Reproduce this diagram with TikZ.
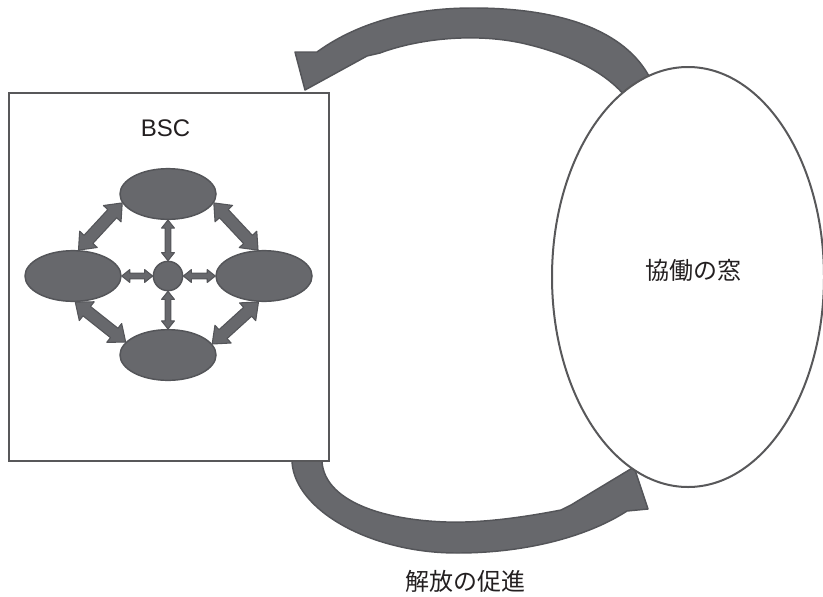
\documentclass[tikz,border=0pt]{standalone}
\usepackage{fontspec}
\setmainfont{Liberation Sans}
\newfontfamily\jfont{Noto Sans CJK JP}
\usepackage{tikz}
\usetikzlibrary{calc,shapes.geometric}

\definecolor{arrowfill}{RGB}{103,104,108}
\definecolor{arrowline}{RGB}{84,85,89}
\definecolor{frameline}{RGB}{88,88,90}
\definecolor{textcol}{RGB}{35,31,32}

% double block arrow: from, to, half shaft, half head, head length
\newcommand{\dblarrow}[5]{%
  \path (#1) coordinate (da) (#2) coordinate (db);
  \path ($(da)!#5!(db)$) coordinate (dc) ($(db)!#5!(da)$) coordinate (dd);
  \filldraw[smallarrow] (da) -- ($(dc)!#4!90:(db)$) -- ($(dc)!#3!90:(db)$)
    -- ($(dd)!#3!-90:(da)$) -- ($(dd)!#4!-90:(da)$) -- (db)
    -- ($(dd)!#4!90:(da)$) -- ($(dd)!#3!90:(da)$)
    -- ($(dc)!#3!-90:(db)$) -- ($(dc)!#4!-90:(db)$) -- cycle;
}

\begin{document}
\begin{tikzpicture}
    [x=0.75pt,y=-0.75pt,
      bigarrow/.style={fill=arrowfill,draw=arrowline,line width=1.1pt,line join=round},
      smallarrow/.style={fill=arrowfill,draw=arrowline,line width=0.8pt,line join=round},
      blob/.style={ellipse,fill=arrowfill,draw=arrowline,line width=1.1pt,
        minimum width=72pt,minimum height=38pt,inner sep=0pt},
      hubnode/.style={circle,fill=arrowfill,draw=arrowline,line width=1.1pt,
        minimum size=22pt,inner sep=0pt},
      lbl/.style={text=textcol,font=\fontsize{18pt}{20pt}\selectfont}]
    \useasboundingbox (0,0) rectangle (823,596);

    % curved arrow back to BSC
    \filldraw[bigarrow] (665,95) -- (650,78)
      .. controls (625,30) and (560,8) .. (473,8)
      .. controls (400,8) and (350,28) .. (317,52)
      -- (295,52) -- (305,90) -- (367,56) -- (380,53)
      .. controls (420,38) and (480,32) .. (530,45)
      .. controls (570,55) and (605,72) .. (625,96)
      -- (640,115) -- cycle;
    % curved arrow to the window
    \filldraw[bigarrow] (292,450) -- (292,462)
      .. controls (295,510) and (370,553) .. (457,553)
      .. controls (530,553) and (590,535) .. (627,511)
      -- (648,509) -- (634,467) -- (571,505) -- (561,510)
      .. controls (520,518) and (480,523) .. (447,522)
      .. controls (380,520) and (325,500) .. (322,462)
      -- (322,450) -- cycle;

    \node[draw=frameline,fill=white,line width=1.5pt,minimum width=240pt,
      minimum height=276pt,inner sep=0pt] (bsc) at (169,277) {};
    \node[ellipse,draw=frameline,fill=white,line width=1.5pt,minimum width=204pt,
      minimum height=315pt,inner sep=0pt] (window) at (688,277) {};

    \node[lbl] (bsctext) at (165.5,128) {BSC};
    \node[lbl,font=\jfont\fontsize{18pt}{20pt}\selectfont] (wintext) at (693,270) {協働の窓};
    \node[lbl,font=\jfont\fontsize{18pt}{20pt}\selectfont] (freetext) at (465,581) {解放の促進};

    \node[blob] (top) at (168,194) {};
    \node[blob] (left) at (73,276) {};
    \node[blob] (right) at (264,276) {};
    \node[blob] (bottom) at (168,355) {};
    \node[hubnode] (hub) at (168,276) {};

    \dblarrow{top.191}{left.78}{4.5pt}{9pt}{11pt}
    \dblarrow{top.349}{right.103}{4.5pt}{9pt}{11pt}
    \dblarrow{left.275}{bottom.163}{4.5pt}{9pt}{11pt}
    \dblarrow{right.258}{bottom.14}{4.5pt}{9pt}{11pt}
    \dblarrow{top.south}{hub.north}{2.2pt}{4.8pt}{6pt}
    \dblarrow{hub.south}{bottom.north}{2.2pt}{4.8pt}{6pt}
    \dblarrow{left.east}{hub.west}{2.2pt}{4.8pt}{6pt}
    \dblarrow{hub.east}{right.west}{2.2pt}{4.8pt}{6pt}
\end{tikzpicture}
\end{document}
